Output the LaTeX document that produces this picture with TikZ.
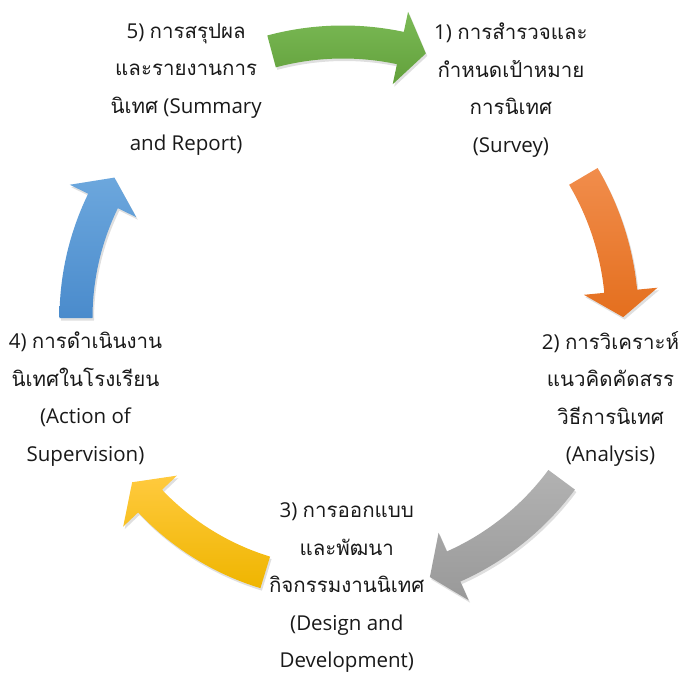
\documentclass[tikz,border=0pt]{standalone}
\usepackage{fontspec}
\setmainfont{Open Sans}
\newfontfamily\thaifont[Script=Thai]{Loma}
\newcommand{\thtxt}[1]{{\thaifont #1}}
\usetikzlibrary{calc,shadows}

\definecolor{greentop}{HTML}{7BBA56}
\definecolor{greenbot}{HTML}{62A03B}
\definecolor{orangetop}{HTML}{F18D4C}
\definecolor{orangebot}{HTML}{E46F1E}
\definecolor{graytop}{HTML}{B2B2B2}
\definecolor{graybot}{HTML}{999999}
\definecolor{yellowtop}{HTML}{FFCA3E}
\definecolor{yellowbot}{HTML}{EFB500}
\definecolor{bluetop}{HTML}{6CA7DD}
\definecolor{bluebot}{HTML}{4A8BCC}

% #1 top colour, #2 bottom colour, #3 tail angle, #4 head angle, #5 radius
\newcommand{\cyclearrow}[5]{%
  \path[arrowbody, top color=#1, bottom color=#2]
    ({#3}:{#5+16.5}) arc[start angle=#3, end angle=#4, radius=#5+16.5]
    -- ({#4}:{#5+37}) -- ($({#4}:{#5})+({#4-90}:26)$) -- ({#4}:{#5-37})
    -- ({#4}:{#5-16.5}) arc[start angle=#4, end angle=#3, radius=#5-16.5]
    -- cycle;
}

\begin{document}
\begin{tikzpicture}[x=1pt,y=1pt,
    stagetext/.style={align=center, inner sep=0pt, text=black!90, font=\fontsize{20.5}{37.5}\selectfont},
    arrowbody/.style={drop shadow={opacity=0.25, shadow xshift=1.5pt, shadow yshift=-2.5pt}}]
  \useasboundingbox (-343,-357) rectangle (339,318);
  \coordinate (hub) at (0,0);

  \cyclearrow{greentop}{greenbot}{105}{78}{276}
  \cyclearrow{orangetop}{orangebot}{30.5}{5.5}{279}
  \cyclearrow{graytop}{graybot}{-36.5}{-66}{272}
  \cyclearrow{yellowtop}{yellowbot}{253}{223.5}{266}
  \cyclearrow{bluetop}{bluebot}{180}{154}{267}

  \node[stagetext] (survey)   at ($(hub)+(53.6:283)$)
    {1) \thtxt{การสำรวจและ}\\ \thtxt{กำหนดเป้าหมาย}\\ \thtxt{การนิเทศ}\\ (Survey)};
  \node[stagetext] (analysis) at ($(hub)+(-16.8:279.5)$)
    {2) \thtxt{การวิเคราะห์}\\ \thtxt{แนวคิดคัดสรร}\\ \thtxt{วิธีการนิเทศ}\\ (Analysis)};
  \node[stagetext] (design)   at ($(hub)+(-89.2:270)$)
    {3) \thtxt{การออกแบบ}\\ \thtxt{และพัฒนา}\\ \thtxt{กิจกรรมงานนิเทศ}\\ (Design and\\ Development)};
  \node[stagetext] (action)   at ($(hub)+(197.5:270)$)
    {4) \thtxt{การดำเนินงาน}\\ \thtxt{นิเทศในโรงเรียน}\\ (Action of\\ Supervision)};
  \node[stagetext] (summary)  at ($(hub)+(124.5:277)$)
    {5) \thtxt{การสรุปผล}\\ \thtxt{และรายงานการ}\\ \thtxt{นิเทศ} (Summary\\ and Report)};
\end{tikzpicture}
\end{document}
